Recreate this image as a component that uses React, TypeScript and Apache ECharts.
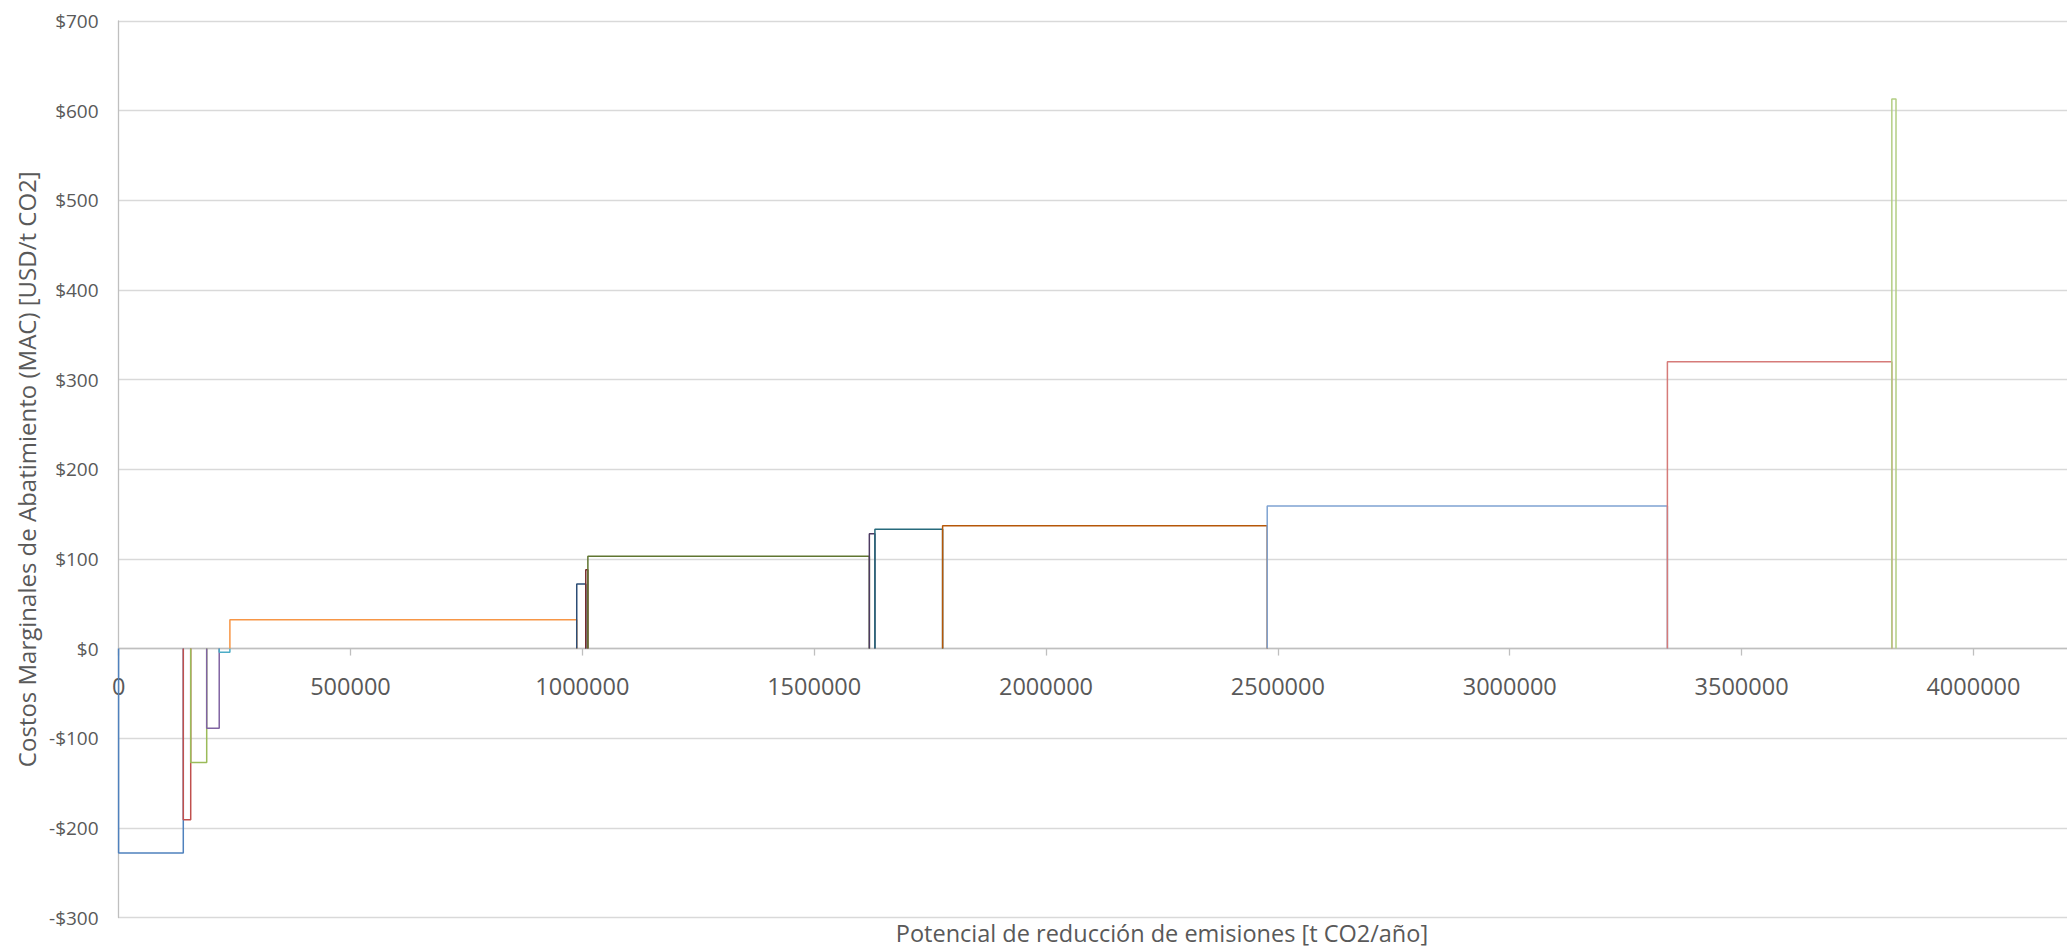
import React, { useEffect, useRef } from "react";
import * as echarts from "echarts";

// Abatement potential of each measure [t CO2/año], in merit order
const potencial = [
  139500, 16000, 34500, 27000, 23000, 748000, 19500, 4500, 607000, 12000,
  146000, 700000, 863000, 484000, 9000,
];
// Marginal abatement cost of each measure [USD/t CO2]
const costo = [-228, -191, -127, -89, -4, 32, 72, 88, 103, 128, 133, 137, 159, 320, 613];
// Stroke colour of each measure's block
const colores = [
  "#4F81BD", "#C0504D", "#9BBB59", "#8064A2", "#4BACC6", "#F79646",
  "#2C4D75", "#772C2A", "#5F7530", "#4D3B62", "#276A7C", "#B65708",
  "#7FA3D2", "#D67B79", "#B3CE84",
];

const X_MIN = 0;
const X_MAX = 4500000;
const X_STEP = 500000;
const Y_MIN = -300;
const Y_MAX = 700;
const Y_STEP = 100;

const GRID_TOP = 21;
const GRID_BOTTOM = 34.5;
const CHART_H = 952;

const TEXT = "#595959";
const FONT = "'Open Sans', 'Noto Sans', sans-serif";

function buildSeries() {
  const series: any[] = [];
  let inicio = 0;
  potencial.forEach((ancho, i) => {
    const fin = inicio + ancho;
    const c = costo[i];
    series.push({
      type: "line",
      name: `Medida ${i + 1}`,
      data: [
        [inicio, 0],
        [inicio, c],
        [fin, c],
        [fin, 0],
      ],
      showSymbol: false,
      symbol: "none",
      lineStyle: { color: colores[i], width: 1.5 },
      itemStyle: { color: colores[i] },
      z: 2 + i,
    });
    inicio = fin;
  });
  return series;
}

export default function App() {
  const ref = useRef<HTMLDivElement>(null);

  useEffect(() => {
    if (!ref.current) return;
    const chart = echarts.init(ref.current, undefined, { renderer: "svg" });
    // the horizontal axis sits on the $0 line: lift it from the grid bottom
    const plotH = CHART_H - GRID_TOP - GRID_BOTTOM;
    const zeroLift = ((0 - Y_MIN) / (Y_MAX - Y_MIN)) * plotH;
    chart.setOption({
      animation: false,
      backgroundColor: "#ffffff",
      grid: {
        left: 118.6,
        top: GRID_TOP,
        right: -138.3,
        bottom: GRID_BOTTOM,
        containLabel: false,
        outerBoundsMode: "none",
      },
      xAxis: {
        type: "value",
        min: X_MIN,
        max: X_MAX,
        interval: X_STEP,
        offset: -zeroLift,
        name: "Potencial de reducción de emisiones [t CO2/año]",
        nameLocation: "middle",
        nameGap: 272,
        nameTextStyle: { color: TEXT, fontSize: 23.5, fontFamily: FONT },
        axisLine: { onZero: false, lineStyle: { color: "#BFBFBF", width: 1.3 } },
        axisTick: { show: true, inside: false, length: 7, lineStyle: { color: "#BFBFBF", width: 1.3 } },
        axisLabel: {
          color: TEXT,
          fontSize: 23.5,
          fontFamily: FONT,
          margin: 25,
          showMaxLabel: false,
          formatter: (v: number) => String(v),
        },
        splitLine: { show: false },
      },
      yAxis: {
        type: "value",
        min: Y_MIN,
        max: Y_MAX,
        interval: Y_STEP,
        name: "Costos Marginales de Abatimiento (MAC) [USD/t CO2]",
        nameLocation: "middle",
        nameGap: 78,
        nameTextStyle: { color: TEXT, fontSize: 24, fontFamily: FONT },
        axisLine: { show: true, lineStyle: { color: "#BFBFBF", width: 1.3 } },
        axisTick: { show: false },
        axisLabel: {
          color: TEXT,
          fontSize: 19,
          fontFamily: FONT,
          margin: 20,
          formatter: (v: number) => (v < 0 ? `-$${Math.abs(v)}` : `$${v}`),
        },
        splitLine: { show: true, lineStyle: { color: "#D9D9D9", width: 1.3 } },
      },
      series: buildSeries(),
    });
    return () => chart.dispose();
  }, []);

  return (
    <div
      ref={ref}
      style={{ position: "fixed", left: 0, top: 0, width: 2067, height: CHART_H, overflow: "hidden" }}
    />
  );
}
